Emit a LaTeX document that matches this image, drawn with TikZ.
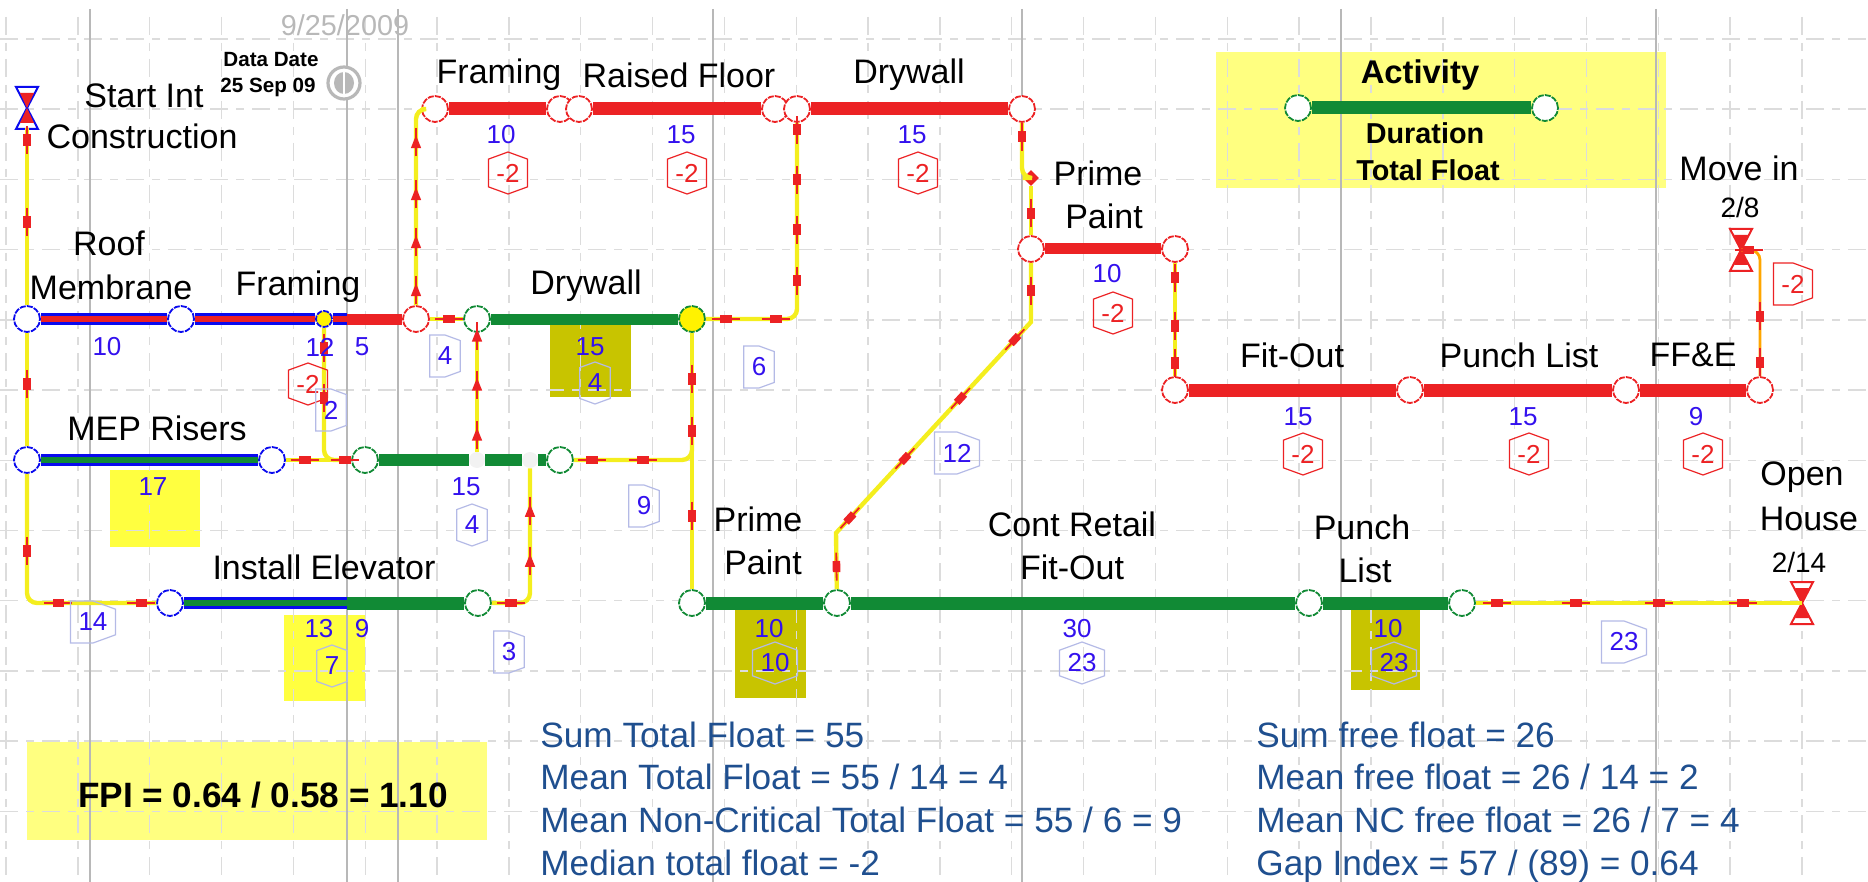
\documentclass[tikz,border=0pt]{standalone}
\usepackage{fontspec}
\setmainfont{Liberation Sans}
\usetikzlibrary{shapes.geometric,shapes.misc,decorations.markings}
\definecolor{critred}{HTML}{EC2224}
\definecolor{actgreen}{HTML}{118A35}
\definecolor{barblue}{HTML}{0A0AEE}
\definecolor{durblue}{HTML}{3311EE}
\definecolor{badgeblue}{HTML}{B4BAE6}
\definecolor{gridgray}{HTML}{DCDCDC}
\definecolor{daygray}{HTML}{B8B8B8}
\definecolor{linkyellow}{HTML}{F4EE1E}
\definecolor{paleyellow}{HTML}{FFFF80}
\definecolor{brightyellow}{HTML}{FFFF40}
\definecolor{olive}{HTML}{C8C400}
\definecolor{statblue}{HTML}{1F4F8F}
\tikzset{
  act/.style={circle, draw=#1, fill=white, minimum size=13pt, inner sep=0pt, line width=0.9pt, dash pattern=on 3pt off 0.6pt},
  bar/.style={draw=#1, line width=6.5pt},
  basebar/.style={draw=barblue, line width=1.25pt, double=#1, double distance=3.2pt},
  link/.style={draw=linkyellow, line width=2.2pt, rounded corners=5pt},
  tick/.style={postaction={decorate, decoration={markings, mark=at position #1*0.5pt with {
    \draw[critred, sharp corners, line width=0.9pt] (-7pt,0pt) -- (7pt,0pt);
    \fill[critred, sharp corners] (-2.8pt,-1.9pt) rectangle (2.8pt,1.9pt);}}}},
  atick/.style={postaction={decorate, decoration={markings, mark=at position #1*0.5pt with {
    \draw[critred, sharp corners, line width=0.9pt] (-7pt,0pt) -- (7pt,0pt);
    \fill[critred, sharp corners] (-3pt,-2.6pt) -- (3.4pt,0pt) -- (-3pt,2.6pt) -- cycle;}}}},
  tag/.style={font=\fontsize{17}{20}\selectfont, text=black, inner sep=0pt},
  dur/.style={font=\fontsize{13}{15}\selectfont, text=durblue, inner sep=0pt},
  stat/.style={font=\fontsize{17.6}{20}\selectfont, text=statblue, anchor=base west, inner sep=0pt},
  badge/.style={chamfered rectangle, chamfered rectangle angle=70, chamfered rectangle xsep=1.6pt, chamfered rectangle ysep=5pt,
    draw=#1, line width=0.6pt, minimum height=21pt, inner xsep=2.4pt, inner ysep=0pt,
    font=\fontsize{13}{15}\selectfont},
  onebadge/.style={badge=#1, chamfered rectangle corners={north east, south east}},
  mile/.pic={
    \path[pic actions, fill=white, line width=1pt] (-11,-21) -- (11,-21) -- (-11,21) -- (11,21) -- cycle;
    \fill[critred] (-7,-15) -- (7,-15) -- (-7,15) -- (7,15) -- cycle;}
}
\begin{document}
\begin{tikzpicture}[x=0.5pt,y=-0.5pt]
  \useasboundingbox (0,0) rectangle (1868,882);
  % Highlight boxes
  \fill[brightyellow] (110,470) rectangle (200,547);
  \fill[brightyellow] (284,615) rectangle (365,701);
  \fill[olive] (550,325) rectangle (631,397);
  \fill[olive] (735,610) rectangle (806,698);
  \fill[olive] (1351,610) rectangle (1420,690);
  \fill[paleyellow] (1216,52) rectangle (1666,188);
  \fill[paleyellow] (27,742) rectangle (487,840);
  % Gridlines
  \foreach \i in {0,...,25} {
    \draw[gridgray, line width=0.7pt, dash pattern=on 9pt off 4pt on 4pt off 4pt] (6+71.84*\i,17) -- (6+71.84*\i,882);
  }
  \foreach \j in {0,...,11} {
    \draw[gridgray, line width=0.7pt, dash pattern=on 9pt off 4pt on 4pt off 4pt] (0,39+70.2*\j) -- (1868,39+70.2*\j);
  }
  % Time scale lines
  \foreach \x in {90,347,398,713,1022,1341,1656} {
    \draw[daygray, line width=0.8pt] (\x,9) -- (\x,882);
  }
  % Activity nodes, first network
  \node[act=barblue] (rf1) at (27,319) {};
  \node[act=barblue] (rf2) at (181,319) {};
  \node[act=barblue, fill=yellow, minimum size=8pt] (rf3) at (324,319) {};
  \coordinate (rfd) at (347,319);
  \node[act=critred] (rf4) at (416,319) {};
  \node[act=actgreen] (dw1) at (477,319) {};
  \node[act=actgreen, fill=yellow] (dw2) at (692,319) {};
  \node[act=barblue] (ml1) at (27,460) {};
  \node[act=barblue] (ml2) at (272,460) {};
  \node[act=actgreen] (ml3) at (365,460) {};
  \node[circle, fill=gray!10, minimum size=8pt, inner sep=0pt] (gp1) at (477,460) {};
  \node[circle, fill=gray!10, minimum size=8pt, inner sep=0pt] (gp2) at (530,460) {};
  \node[act=actgreen] (ml4) at (560,460) {};
  \node[act=barblue] (in1) at (170,603) {};
  \coordinate (ind) at (347,603);
  \node[act=actgreen] (in2) at (478,603) {};
  % Activity nodes, top and right
  \node[act=critred] (fr1) at (435,109) {};
  \node[act=critred] (fr2) at (560,109) {};
  \node[act=critred] (fr3) at (579,109) {};
  \node[act=critred] (fr4) at (775,109) {};
  \node[act=critred] (fr5) at (797,109) {};
  \node[act=critred] (fr6) at (1022,109) {};
  \node[diamond, fill=critred, minimum size=8pt, inner sep=0pt] (dm) at (1031,178) {};
  \node[act=critred] (pr1) at (1031,249) {};
  \node[act=critred] (pr2) at (1175,249) {};
  \node[act=critred] (fo1) at (1175,390) {};
  \node[act=critred] (fo2) at (1410,390) {};
  \node[act=critred] (fo3) at (1626,390) {};
  \node[act=critred] (fo4) at (1760,390) {};
  % Activity nodes, retail row and legend
  \node[act=actgreen] (rt1) at (692,603) {};
  \node[act=actgreen] (rt2) at (837,603) {};
  \node[act=actgreen] (rt3) at (1309,603) {};
  \node[act=actgreen] (rt4) at (1462,603) {};
  \node[act=actgreen] (lg1) at (1298,108) {};
  \node[act=actgreen] (lg2) at (1545,108) {};
  % Milestones
  \coordinate (st) at (27,128);
  \coordinate (mv) at (1741,250);
  \coordinate (oh) at (1802,603);
  \coordinate (jn) at (692,440);
  \coordinate (ka) at (1031,322);
  \coordinate (kb) at (836,533);
  \pic[draw=barblue] at (27,108) {mile};
  \pic[draw=critred] at (1741,250) {mile};
  \pic[draw=critred] at (1802,603) {mile};
  % Links
  \draw[link, tick/.list={12,94}] (st) -- (rf1);
  \draw[link, tick/.list={51}] (rf1) -- (ml1);
  \draw[link, tick/.list={77,156,239}] (ml1) |- (in1);
  \draw[link, tick/.list={20,70}] (rf3) |- (ml3);
  \draw[link, tick/.list={19,59}] (ml2) -- (ml3);
  \draw[link, atick/.list={17,67,116}] (gp1) -- (dw1);
  \draw[link, tick/.list={19}, atick/.list={76,126}] (in2) -| (gp2);
  \draw[link, tick/.list={18,69}] (ml4) -| (jn);
  \draw[link, tick/.list={46,98,183}] (dw2) -- (rt1);
  \draw[link, tick/.list={20,70,125,176,226,276}] (dw2) -| (fr5);
  \draw[link, atick/.list={15,63,111,163}] (rf4) |- (fr1);
  \draw[link, tick/.list={19}] (rf4) -- (dw1);
  \draw[link, tick/.list={14}] (fr6) |- (dm);
  \draw[link, tick/.list={27}] (dm) -- (pr1);
  \draw[link, rounded corners=0pt, tick/.list={28,83,163,245,326,380}] (pr1) -- (ka) -- (kb) -- (rt2);
  \draw[link, tick/.list={15,63,100}] (pr2) -- (fo1);
  \draw[link, draw=orange!70!yellow, line width=1.4pt, tick/.list={14,60,133}] (fo4) |- (mv);
  \draw[link, tick/.list={21,100,183,267}] (rt4) -- (oh);
  % Bars
  \draw[basebar=critred] (rf1) -- (rf2);
  \draw[basebar=critred] (rf2) -- (rf3);
  \draw[basebar=critred] (rf3) -- (rfd);
  \draw[bar=critred, line width=5.5pt] (rfd) -- (rf4);
  \draw[bar=actgreen, line width=5.5pt] (dw1) -- (dw2);
  \draw[basebar=actgreen] (ml1) -- (ml2);
  \draw[bar=actgreen, line width=6pt] (ml3) -- (gp1);
  \draw[bar=actgreen, line width=6pt] (gp1) -- (gp2);
  \draw[bar=actgreen, line width=6pt] (gp2) -- (ml4);
  \draw[basebar=actgreen] (in1) -- (ind);
  \draw[bar=actgreen] (ind) -- (in2);
  \draw[bar=critred] (fr1) -- (fr2);
  \draw[bar=critred] (fr3) -- (fr4);
  \draw[bar=critred] (fr5) -- (fr6);
  \draw[bar=critred, line width=5.5pt] (pr1) -- (pr2);
  \draw[bar=critred] (fo1) -- (fo2);
  \draw[bar=critred] (fo2) -- (fo3);
  \draw[bar=critred] (fo3) -- (fo4);
  \draw[bar=actgreen] (rt1) -- (rt2);
  \draw[bar=actgreen] (rt2) -- (rt3);
  \draw[bar=actgreen] (rt3) -- (rt4);
  \draw[bar=actgreen] (lg1) -- (lg2);
  % Activity names
  \foreach \x/\y/\t [count=\i] in {144/96/Start Int, 142/136/Construction, 109/243/Roof, 111/287/Membrane,
    298/287/Framing, 586/286/Drywall, 157/428/MEP Risers, 324/567/Install Elevator, 499/75/Framing,
    679/75/Raised Floor, 909/75/Drywall, 1098/173/Prime, 1104/216/Paint, 1292/355/Fit-Out,
    1519/355/Punch List, 1693/355/FF\&E, 1739/168/Move in, 758/519/Prime, 763/562/Paint,
    1072/524/Cont Retail, 1072/567/Fit-Out, 1362/527/Punch, 1365/570/List, 1802/477/Open, 1809/519/House} {
    \node[tag] (name\i) at (\x,\y) {\t};
  }
  \node[tag, font=\fontsize{14}{16}\selectfont] (mvdate) at (1740,207) {2/8};
  \node[tag, font=\fontsize{14}{16}\selectfont] (ohdate) at (1799,562) {2/14};
  % Durations
  \foreach \x/\y/\t [count=\i] in {107/347/10, 320/347/12, 362/347/5, 590/347/15, 153/487/17, 466/487/15,
    319/629/13, 362/629/9, 501/135/10, 681/135/15, 912/135/15, 1107/274/10, 1298/417/15, 1523/417/15,
    1696/417/9, 769/629/10, 1077/629/30, 1388/629/10} {
    \node[dur] (dur\i) at (\x,\y) {\t};
  }
  % Total float
  \foreach \x/\y/\t [count=\i] in {508/173/-2, 687/173/-2, 918/173/-2, 1113/313/-2, 1303/454/-2, 1529/454/-2, 1703/454/-2, 308/384/-2} {
    \node[badge=critred, text=critred] (redf\i) at (\x,\y) {\t};
  }
  \node[onebadge=critred, text=critred] (redf9) at (1793,284) {-2};
  \foreach \x/\y/\t [count=\i] in {595/383/4, 472/525/4, 332/666/7, 775/663/10, 1082/663/23, 1394/663/23} {
    \node[badge=badgeblue, text=durblue] (bluf\i) at (\x,\y) {\t};
  }
  \foreach \x/\y/\t [count=\i] in {445/356/4, 331/410/2, 93/622/14, 509/652/3, 759/367/6, 644/506/9, 957/453/12, 1624/642/23} {
    \node[onebadge=badgeblue, text=durblue] (bluo\i) at (\x,\y) {\t};
  }
  % Data date
  \node[text=daygray, font=\fontsize{14.4}{16}\selectfont, inner sep=0pt] (ddate) at (345,25) {9/25/2009};
  \node[font=\bfseries\fontsize{10.3}{12}\selectfont, inner sep=0pt] (ddtop) at (271,60) {Data Date};
  \node[font=\bfseries\fontsize{10.3}{12}\selectfont, inner sep=0pt] (ddbot) at (268,87) {25 Sep 09};
  \node[circle, draw=daygray, fill=white, line width=1.6pt, minimum size=16pt, inner sep=0pt] (ddring) at (344,83) {};
  \node[ellipse, fill=daygray, minimum width=10pt, minimum height=11pt, inner sep=0pt] (ddcore) at (344,83) {};
  \draw[white, line width=0.8pt] (ddcore.north) -- (ddcore.south);
  % Legend
  \node[font=\bfseries\fontsize{16.4}{18}\selectfont, inner sep=0pt] (lgact) at (1420,75) {Activity};
  \node[font=\bfseries\fontsize{14.4}{16}\selectfont, inner sep=0pt] (lgdur) at (1425,133) {Duration};
  \node[font=\bfseries\fontsize{14.4}{16}\selectfont, inner sep=0pt] (lgflt) at (1428,170) {Total Float};
  % Index
  \node[font=\bfseries\fontsize{17.6}{20}\selectfont, inner sep=0pt] (fpi) at (263,795) {FPI = 0.64 / 0.58 = 1.10};
  \foreach \y/\t [count=\i] in {747/{Sum Total Float = 55}, 789/{Mean Total Float = 55 / 14 = 4},
    832/{Mean Non-Critical Total Float = 55 / 6 = 9}, 875/{Median total float = -2}} {
    \node[stat] (tfl\i) at (540,\y) {\t};
  }
  \foreach \y/\t [count=\i] in {747/{Sum free float = 26}, 789/{Mean free float = 26 / 14 = 2},
    832/{Mean NC free float = 26 / 7 = 4}, 875/{Gap Index = 57 / (89) = 0.64}} {
    \node[stat] (ffl\i) at (1256,\y) {\t};
  }
\end{tikzpicture}
\end{document}
